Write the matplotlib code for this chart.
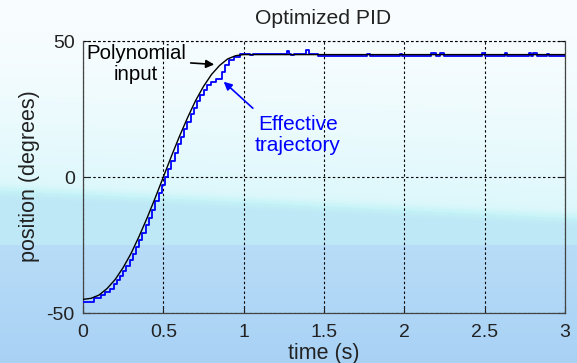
import numpy as np
import matplotlib
matplotlib.use("Agg")
import matplotlib.pyplot as plt

plt.rcParams['font.family'] = ['Liberation Sans', 'DejaVu Sans']

# Reference (polynomial) input, degrees
poly_t = [0.00, 0.05, 0.10, 0.15, 0.20, 0.25, 0.30, 0.35, 0.40, 0.45, 0.50,
          0.55, 0.60, 0.65, 0.70, 0.75, 0.80, 0.85, 0.90, 0.95, 1.00, 3.00]
poly_y = [-45.0, -44.6, -43.4, -41.0, -37.7, -33.3, -28.0, -21.7, -14.9, -7.6, 0.0,
          7.6, 14.9, 21.7, 28.0, 33.3, 37.7, 41.0, 43.4, 44.6, 45.0, 45.0]

# Measured (effective) trajectory, encoder steps, degrees
eff_t = [0.000, 0.070, 0.110, 0.140, 0.165, 0.190, 0.210, 0.230, 0.250, 0.270,
         0.290, 0.310, 0.330, 0.350, 0.370, 0.390, 0.410, 0.430, 0.450, 0.470,
         0.490, 0.510, 0.530, 0.550, 0.570, 0.590, 0.610, 0.630, 0.650, 0.670,
         0.690, 0.710, 0.730, 0.750, 0.770, 0.795, 0.830, 0.865, 0.885, 0.910,
         0.940, 0.975,
         1.040, 1.060, 1.270, 1.285, 1.295, 1.315, 1.385, 1.405, 1.460,
         1.770, 1.785, 1.970, 1.985, 2.165, 2.195, 2.225, 2.245, 2.485, 2.505,
         2.625, 2.640, 2.775, 2.790, 2.800, 2.825, 2.885, 2.900, 3.000]
eff_y = [-46.0, -44.6, -43.5, -42.2, -41.0, -39.5, -38.0, -36.4, -34.6, -32.6,
         -30.4, -28.2, -25.8, -23.3, -20.6, -17.8, -15.0, -12.0, -9.0, -6.0,
         -3.0, 0.0, 3.0, 6.0, 9.0, 12.0, 14.8, 17.6, 20.4, 23.0,
         25.5, 27.8, 30.0, 32.0, 33.8, 35.0, 36.0, 38.5, 41.0, 43.0,
         44.3, 45.4,
         44.9, 45.4, 46.2, 45.4, 44.7, 45.4, 46.8, 45.4, 44.5,
         45.2, 44.5, 45.1, 44.5, 45.7, 44.5, 45.6, 44.5, 45.6, 44.5,
         45.5, 44.5, 45.6, 44.5, 45.6, 44.5, 45.4, 44.5, 44.5]

x_ticks = [0, 0.5, 1, 1.5, 2, 2.5, 3]
x_tick_labels = ['0', '0.5', '1', '1.5', '2', '2.5', '3']
y_ticks = [-50, 0, 50]
y_tick_labels = ['-50', '0', '50']

W, H = 577, 363
fig = plt.figure(figsize=(W / 100, H / 100), dpi=100)

# Slide-style pale blue backdrop
yy, xx = np.mgrid[0:H, 0:W].astype(float)
top = np.array([0.975, 0.992, 1.0])
upper = np.array([0.86, 0.97, 0.985])
mid = np.array([0.75, 0.91, 0.965])
low_a = np.array([0.72, 0.865, 0.97])
low_b = np.array([0.66, 0.82, 0.96])
streak_c = 190 + 28 * (xx / W)
f_up = np.clip(yy / streak_c, 0, 1)[..., None] ** 1.6
bg = top + (upper - top) * f_up
bg = np.where((yy > streak_c)[..., None], mid, bg)
f_low = np.clip((yy - 245) / (H - 245), 0, 1)[..., None]
lower = low_a + (low_b - low_a) * f_low
bg = np.where((yy >= 245)[..., None], lower, bg)
w_streak = np.exp(-((yy - streak_c) / 5.0) ** 2)[..., None]
bg = bg + (np.array([0.77, 0.955, 0.97]) - bg) * 0.8 * w_streak
fig.figimage(np.clip(bg, 0, 1), xo=0, yo=0, origin='upper', zorder=0)

ax = fig.add_axes([83 / W, 1 - 313 / H, (565 - 83) / W, (313 - 41) / H])
ax.set_facecolor('none')
ax.set_zorder(1)

ax.plot(eff_t, eff_y, color='#0000ff', lw=1.3, drawstyle='steps-post', zorder=3)
ax.plot(poly_t, poly_y, color='black', lw=1.0, zorder=4)

ax.set_xlim(0, 3)
ax.set_ylim(-50, 50)
ax.set_xticks(x_ticks)
ax.set_xticklabels(x_tick_labels)
ax.set_yticks(y_ticks)
ax.set_yticklabels(y_tick_labels)
ax.tick_params(direction='in', length=5, width=0.8, labelsize=14, colors='#222222',
               right=True, top=False, pad=6)
ax.tick_params(axis='x', pad=8)
ax.grid(True, color='black', linestyle=(0, (2.2, 2.2)), linewidth=0.8)
for side in ['left', 'right', 'bottom']:
    ax.spines[side].set_color('#444444')
    ax.spines[side].set_linewidth(0.9)
ax.spines['top'].set_visible(False)
ax.axhline(50, color='black', linestyle=(0, (2.2, 2.2)), linewidth=0.8, clip_on=False)

# Annotations
ax.text(0.33, 41.5, 'Polynomial\ninput', ha='center', va='center', fontsize=14.7,
        color='black', linespacing=1.1, zorder=5)
ax.annotate('', xy=(0.834, 41.3), xytext=(0.653, 42.0),
            arrowprops=dict(arrowstyle='-|>', color='black', lw=1.2, mutation_scale=12))
ax.text(1.338, 15.4, 'Effective\ntrajectory', ha='center', va='center', fontsize=15,
        color='#0000ff', linespacing=1.1, zorder=5)
ax.annotate('', xy=(0.863, 35.7), xytext=(1.07, 24.6),
            arrowprops=dict(arrowstyle='-|>', color='#0000ff', lw=1.2, mutation_scale=12))

fig.text(323 / W, 1 - 19 / H, 'Optimized PID', ha='center', va='center', fontsize=15.2,
         color='#222222')
fig.text(30 / W, 1 - 176 / H, 'position (degrees)', ha='center', va='center',
         rotation=90, fontsize=15.5, color='#222222')
fig.text(324 / W, 1 - 353 / H, 'time (s)', ha='center', va='center', fontsize=15.5,
         color='#222222')

fig.savefig('out.png', dpi=100)
